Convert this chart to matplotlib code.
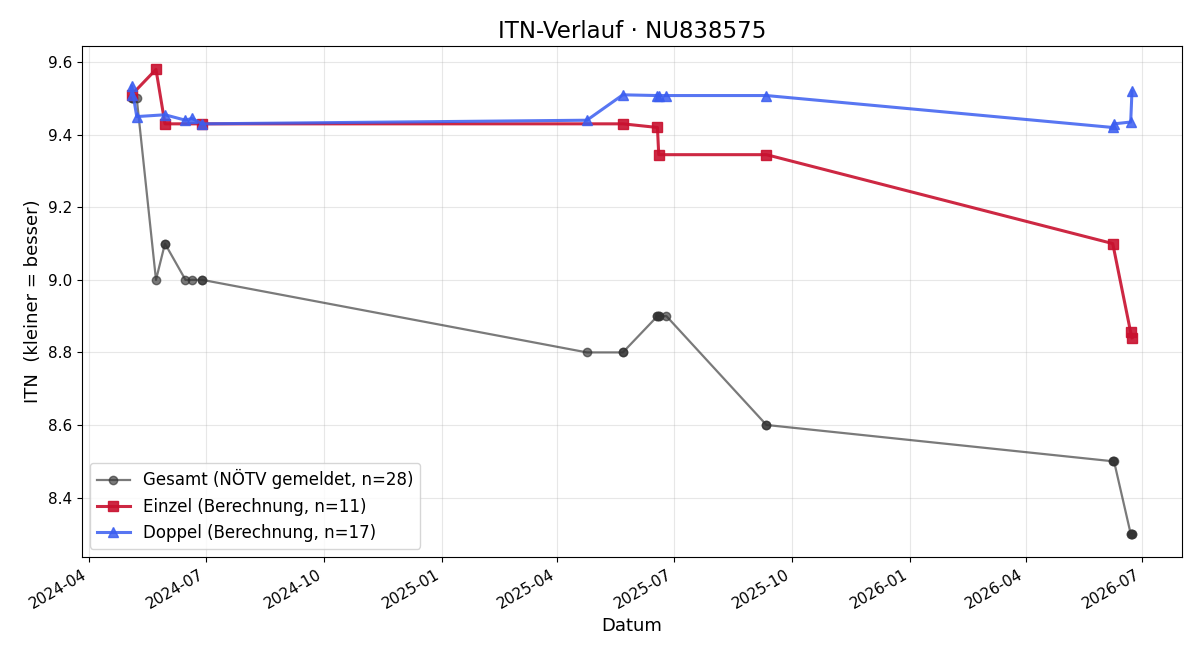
import matplotlib
matplotlib.use("Agg")
import matplotlib.pyplot as plt
import matplotlib.dates as mdates
import pandas as pd

# Gesamt (NÖTV gemeldet)
gesamt_dates = ["2024-05-04", "2024-05-04", "2024-05-05", "2024-05-08", "2024-05-23",
                "2024-05-30", "2024-05-30", "2024-06-15", "2024-06-20", "2024-06-28",
                "2024-06-28", "2025-04-24", "2025-05-22", "2025-05-22", "2025-06-18",
                "2025-06-18", "2025-06-19", "2025-06-19", "2025-06-25", "2025-09-11",
                "2025-09-11", "2026-06-08", "2026-06-08", "2026-06-09", "2026-06-22",
                "2026-06-22", "2026-06-23", "2026-06-23"]
gesamt_itn = [9.5, 9.5, 9.5, 9.5, 9.0,
              9.1, 9.1, 9.0, 9.0, 9.0,
              9.0, 8.8, 8.8, 8.8, 8.9,
              8.9, 8.9, 8.9, 8.9, 8.6,
              8.6, 8.5, 8.5, 8.5, 8.3,
              8.3, 8.3, 8.3]

# Einzel (Berechnung)
einzel_dates = ["2024-05-04", "2024-05-23", "2024-05-30", "2024-06-28", "2025-05-22",
                "2025-06-18", "2025-06-19", "2025-09-11", "2026-06-08", "2026-06-22",
                "2026-06-23"]
einzel_itn = [9.51, 9.58, 9.43, 9.43, 9.43,
              9.42, 9.345, 9.345, 9.10, 8.855,
              8.84]

# Doppel (Berechnung)
doppel_dates = ["2024-05-04", "2024-05-04", "2024-05-08", "2024-05-30", "2024-06-15",
                "2024-06-20", "2024-06-28", "2025-04-24", "2025-05-22", "2025-06-18",
                "2025-06-19", "2025-06-25", "2025-09-11", "2026-06-08", "2026-06-09",
                "2026-06-22", "2026-06-23"]
doppel_itn = [9.51, 9.535, 9.45, 9.455, 9.44,
              9.445, 9.43, 9.44, 9.51, 9.508,
              9.508, 9.508, 9.508, 9.42, 9.43,
              9.435, 9.52]

fig, ax = plt.subplots(figsize=(12, 6.6), dpi=100)

ax.plot(pd.to_datetime(gesamt_dates), gesamt_itn, marker="o", color="#333333",
        alpha=0.65, lw=1.6, ms=6, label=f"Gesamt (NÖTV gemeldet, n={len(gesamt_itn)})")
ax.plot(pd.to_datetime(einzel_dates), einzel_itn, marker="s", color="#c8102e",
        alpha=0.9, lw=2.2, ms=7, label=f"Einzel (Berechnung, n={len(einzel_itn)})")
ax.plot(pd.to_datetime(doppel_dates), doppel_itn, marker="^", color="#3b5ef0",
        alpha=0.85, lw=2.2, ms=7, label=f"Doppel (Berechnung, n={len(doppel_itn)})")

ax.set_title("ITN-Verlauf · NU838575", fontsize=16.5)
ax.set_xlabel("Datum", fontsize=13)
ax.set_ylabel("ITN  (kleiner = besser)", fontsize=13)
ax.xaxis.set_major_locator(mdates.MonthLocator(bymonth=[1, 4, 7, 10]))
ax.xaxis.set_major_formatter(mdates.DateFormatter("%Y-%m"))
ax.tick_params(labelsize=11)
ax.grid(True, alpha=0.3)
ax.legend(loc="lower left", fontsize=12)
fig.autofmt_xdate()
fig.subplots_adjust(left=0.068, right=0.985, top=0.930, bottom=0.156)
fig.savefig("out.png")
